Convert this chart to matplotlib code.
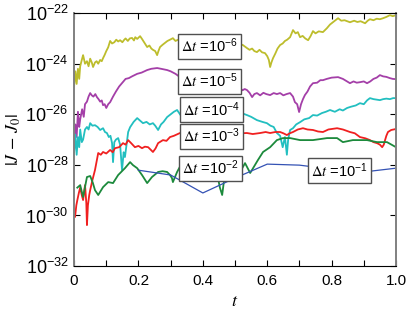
import matplotlib
matplotlib.use("Agg")
import matplotlib.pyplot as plt
import numpy as np

plt.rcParams['font.family'] = ['Liberation Sans', 'DejaVu Sans']
plt.rcParams['mathtext.fontset'] = 'stix'

# exponents log10|J - J0|
t_6 = [0.0, 0.004, 0.008, 0.012, 0.016, 0.019, 0.025, 0.028, 0.034, 0.04, 0.045, 0.05, 0.055, 0.059,
       0.065, 0.07, 0.075, 0.081, 0.086, 0.09, 0.095, 0.1, 0.106, 0.112, 0.118, 0.125, 0.131, 0.137,
       0.143, 0.15, 0.156, 0.16, 0.167, 0.173, 0.18, 0.186, 0.19, 0.196, 0.205, 0.21, 0.215, 0.22,
       0.227, 0.234, 0.24, 0.245, 0.252, 0.258, 0.262, 0.267, 0.275, 0.282, 0.29, 0.298, 0.307,
       0.315, 0.323, 0.33, 0.4, 0.506, 0.515, 0.523, 0.537, 0.545, 0.553, 0.56, 0.568, 0.576, 0.584,
       0.593, 0.6, 0.605, 0.609, 0.613, 0.618, 0.625, 0.632, 0.64, 0.648, 0.655, 0.662, 0.671, 0.68,
       0.688, 0.695, 0.702, 0.71, 0.718, 0.727, 0.735, 0.742, 0.75, 0.76, 0.773, 0.785, 0.795, 0.805,
       0.82, 0.83, 0.84, 0.857, 0.87, 0.88, 0.89, 0.904, 0.912, 0.919, 0.93, 0.94, 0.95, 0.96, 0.97,
       0.981, 0.99, 1.0]
y_6 = [-24.9, -24.3, -24.8, -24.2, -24.6, -24.1, -23.8, -23.66, -24.0, -23.9, -24.1, -23.8, -23.95, -24.13,
       -23.95, -23.9, -24.0, -23.85, -23.9, -23.78, -23.65, -23.5, -23.35, -23.1, -23.2, -23.15, -23.05, -23.12,
       -23.07, -23.15, -23.05, -23.0, -23.1, -23.0, -22.98, -23.08, -22.95, -23.02, -22.91, -23.0, -23.1, -23.2,
       -23.34, -23.28, -23.4, -23.45, -23.5, -23.66, -23.5, -23.34, -23.25, -23.18, -23.1, -23.05, -22.99,
       -23.1, -23.05, -23.15, -23.2, -23.19, -23.3, -23.25, -23.38, -23.45, -23.4, -23.5, -23.54, -23.45, -23.55,
       -23.58, -23.7, -23.85, -24.13, -23.95, -23.78, -23.6, -23.4, -23.26, -23.2, -23.1, -23.05, -22.95, -22.67,
       -22.8, -22.75, -22.95, -22.9, -23.0, -23.07, -22.9, -22.71, -22.8, -22.72, -22.75, -22.6, -22.45, -22.35,
       -22.2, -22.3, -22.28, -22.36, -22.3, -22.35, -22.32, -22.4, -22.3, -22.24, -22.28, -22.22, -22.24, -22.2, -22.15,
       -22.08, -22.12, -22.08]

t_5 = [0.0, 0.004, 0.008, 0.012, 0.016, 0.019, 0.025, 0.03, 0.034, 0.04, 0.045, 0.05, 0.055, 0.06,
       0.066, 0.071, 0.076, 0.081, 0.086, 0.09, 0.095, 0.1, 0.106, 0.112, 0.121, 0.13, 0.14, 0.15,
       0.16, 0.17, 0.18, 0.196, 0.21, 0.227, 0.24, 0.258, 0.27, 0.289, 0.3, 0.315, 0.329, 0.42, 0.506,
       0.515, 0.523, 0.53, 0.537, 0.545, 0.553, 0.56, 0.568, 0.578, 0.588, 0.597, 0.609, 0.62, 0.63,
       0.64, 0.65, 0.66, 0.671, 0.68, 0.686, 0.693, 0.699, 0.705, 0.711, 0.717, 0.725, 0.733, 0.742,
       0.755, 0.765, 0.773, 0.785, 0.8, 0.82, 0.835, 0.848, 0.857, 0.868, 0.878, 0.888, 0.9, 0.91,
       0.92, 0.93, 0.94, 0.95, 0.96, 0.97, 0.981, 0.99, 1.0]
y_5 = [-27.2, -26.4, -26.9, -25.9, -26.5, -26.2, -25.8, -26.1, -25.6, -25.5, -25.3, -25.16, -25.25, -25.3,
       -25.2, -25.32, -25.4, -25.5, -25.45, -25.64, -25.6, -25.75, -25.6, -25.52, -25.3, -25.1, -24.9, -24.75,
       -24.6, -24.57, -24.5, -24.4, -24.35, -24.25, -24.2, -24.17, -24.2, -24.25, -24.3, -24.4, -24.53, -24.8, -24.92,
       -24.95, -25.05, -25.0, -25.04, -25.15, -25.32, -25.2, -25.16, -25.25, -25.15, -25.2, -25.24, -25.16, -25.2,
       -25.16, -25.25, -25.2, -25.16, -25.3, -25.52, -25.6, -25.91, -25.6, -25.4, -25.24, -25.1, -24.9, -24.77,
       -24.75, -24.65, -24.65, -24.6, -24.55, -24.53, -24.6, -24.7, -24.77, -24.7, -24.75, -24.73, -24.7, -24.77,
       -24.7, -24.6, -24.55, -24.45, -24.5, -24.52, -24.57, -24.6, -24.61]

t_4 = [0.0, 0.004, 0.008, 0.012, 0.016, 0.019, 0.024, 0.028, 0.034, 0.04, 0.045, 0.05, 0.057, 0.065,
       0.073, 0.081, 0.09, 0.096, 0.102, 0.108, 0.113, 0.118, 0.121, 0.125, 0.13, 0.137, 0.143, 0.149,
       0.154, 0.158, 0.163, 0.168, 0.174, 0.185, 0.196, 0.205, 0.214, 0.225, 0.235, 0.245, 0.252, 0.261,
       0.27, 0.278, 0.289, 0.3, 0.31, 0.32, 0.335, 0.42, 0.506, 0.52, 0.537, 0.55, 0.568, 0.585, 0.599,
       0.61, 0.62, 0.63, 0.64, 0.648, 0.655, 0.661, 0.665, 0.671, 0.68, 0.69, 0.702, 0.715, 0.73, 0.742,
       0.755, 0.77, 0.782, 0.795, 0.81, 0.825, 0.835, 0.848, 0.86, 0.875, 0.888, 0.9, 0.91, 0.919, 0.93,
       0.94, 0.95, 0.96, 0.97, 0.981, 0.991, 1.0]
y_4 = [-27.5, -26.8, -27.6, -26.9, -27.3, -26.6, -27.1, -27.0, -26.6, -26.5, -26.6, -26.35, -26.45, -26.43,
       -26.5, -26.62, -26.55, -26.7, -26.74, -26.9, -26.85, -27.14, -27.89, -27.1, -27.0, -26.94, -27.2, -28.21,
       -27.5, -27.69, -27.2, -26.7, -26.51, -26.3, -26.15, -26.25, -26.35, -26.3, -26.4, -26.35, -26.45, -26.62,
       -26.4, -26.3, -26.11, -26.0, -25.9, -25.83, -26.11, -26.0, -25.83, -25.95, -26.03, -26.1, -26.23, -26.3, -26.35,
       -26.45, -26.5, -26.74, -26.85, -27.3, -26.9, -27.6, -27.0, -26.62, -26.55, -26.4, -26.31, -26.2, -26.15, -26.03,
       -26.05, -25.95, -25.9, -25.83, -25.9, -25.8, -25.85, -25.75, -25.7, -25.65, -25.56, -25.6, -25.45, -25.36, -25.4,
       -25.42, -25.44, -25.4, -25.38, -25.4, -25.36, -25.36]

t_3 = [0.0, 0.003, 0.007, 0.01, 0.015, 0.019, 0.024, 0.028, 0.034, 0.038, 0.04, 0.043, 0.047, 0.05,
       0.057, 0.065, 0.075, 0.083, 0.09, 0.1, 0.112, 0.12, 0.127, 0.14, 0.152, 0.16, 0.168, 0.178, 0.189,
       0.2, 0.211, 0.22, 0.23, 0.238, 0.245, 0.253, 0.261, 0.276, 0.287, 0.298, 0.31, 0.329, 0.42, 0.506,
       0.52, 0.537, 0.555, 0.578, 0.595, 0.609, 0.625, 0.64, 0.65, 0.661, 0.67, 0.68, 0.695, 0.711, 0.725,
       0.742, 0.758, 0.773, 0.79, 0.817, 0.835, 0.857, 0.872, 0.888, 0.905, 0.919, 0.93, 0.941, 0.95,
       0.957, 0.962, 0.966, 0.97, 0.975, 0.985, 1.0]
y_3 = [-30.0, -30.06, -29.6, -29.4, -29.1, -28.9, -29.2, -29.39, -28.8, -29.5, -30.38, -29.6, -29.2, -29.0,
       -28.6, -28.2, -27.53, -27.6, -27.49, -27.55, -27.41, -27.5, -27.34, -27.3, -27.14, -27.2, -27.02, -27.15, -27.30,
       -27.25, -27.34, -27.28, -27.30, -27.4, -27.49, -27.35, -27.14, -27.02, -27.05, -26.90, -26.85, -26.74, -26.7, -26.70,
       -26.75, -26.74, -26.78, -26.74, -26.7, -26.74, -26.7, -26.70, -26.75, -26.82, -26.75, -26.70, -26.6, -26.55, -26.6,
       -26.62, -26.68, -26.70, -26.6, -26.55, -26.6, -26.70, -26.75, -26.90, -26.95, -27.02, -27.1, -27.14, -27.2,
       -27.30, -27.2, -27.02, -26.85, -26.70, -26.62, -26.58]

t_2 = [0.01, 0.019, 0.028, 0.04, 0.05, 0.058, 0.065, 0.075, 0.09, 0.106, 0.121, 0.137, 0.158, 0.174,
       0.183, 0.196, 0.211, 0.227, 0.242, 0.261, 0.275, 0.289, 0.298, 0.304, 0.307, 0.32, 0.335, 0.4,
       0.447, 0.453, 0.46, 0.466, 0.475, 0.494, 0.516, 0.531, 0.547, 0.556, 0.571, 0.587, 0.609, 0.63,
       0.649, 0.671, 0.702, 0.742, 0.786, 0.817, 0.835, 0.866, 0.91, 0.941, 0.972, 1.0]
y_2 = [-28.9, -28.80, -29.27, -28.48, -28.44, -28.7, -29.0, -29.19, -28.88, -28.68, -28.72, -28.40, -28.13, -27.89,
       -28.01, -28.13, -28.40, -28.72, -28.48, -28.28, -28.25, -28.28, -28.4, -28.52, -28.68, -28.28, -27.93, -28.3,
       -28.52, -28.9, -29.19, -28.6, -28.40, -28.32, -28.28, -27.93, -28.32, -28.13, -27.81, -27.49, -27.30, -27.02,
       -26.94, -26.94, -27.02, -27.02, -26.94, -26.94, -27.10, -27.02, -27.02, -27.10, -27.10, -27.30]

t_1 = [0.2, 0.3, 0.4, 0.5, 0.6, 0.7, 0.8, 0.9, 1.0]
y_1 = [-28.21, -28.40, -29.11, -28.52, -27.97, -28.01, -28.17, -28.28, -28.13]

series = [
    (t_6, y_6, '#bdbd2c', 6, 0.332, -23.30),
    (t_5, y_5, '#a43fa8', 5, 0.332, -24.69),
    (t_4, y_4, '#22bfc0', 4, 0.338, -25.81),
    (t_3, y_3, '#f02020', 3, 0.338, -26.86),
    (t_2, y_2, '#1c8a3c', 2, 0.335, -28.13),
    (t_1, y_1, '#3452b4', 1, 0.737, -28.23),
]

fig = plt.figure(figsize=(4.07, 3.13), dpi=100)
ax = fig.add_axes([0.182, 0.150, 0.791, 0.808])

for t, y, col, k, lx, ly in series:
    ax.semilogy(t, 10.0 ** np.array(y), color=col, lw=0.9 if k == 1 else 1.3)
for t, y, col, k, lx, ly in series:
    ax.text(lx, 10.0 ** ly, r'$\Delta t$ =$\mathregular{10^{-%d}}$' % k, fontsize=10.5,
            ha='left', va='center', zorder=10,
            bbox=dict(boxstyle='square,pad=0.22', fc='white', ec='#505050', lw=1.0))

ax.set_xlim(0, 1)
ax.set_ylim(1e-32, 1e-22)
ax.set_xticks(np.arange(0, 1.01, 0.1), minor=False)
ax.set_xticklabels(['0', '', '0.2', '', '0.4', '', '0.6', '', '0.8', '', '1.0'], fontsize=11)
yt = [1e-32, 1e-30, 1e-28, 1e-26, 1e-24, 1e-22]
ax.set_yticks(yt)
ax.set_yticklabels([r'$\mathregular{10^{-%d}}$' % e for e in [32, 30, 28, 26, 24, 22]], fontsize=13)
ax.minorticks_off()
ax.tick_params(direction='in', top=True, right=True, length=4, width=0.8)
ax.tick_params(axis='x', pad=6)
ax.tick_params(axis='y', pad=4)
for s in ['left', 'right']:
    ax.spines[s].set_color('#808080')
    ax.spines[s].set_linewidth(1.4)
ax.set_xlabel(r'$t$', fontsize=13, labelpad=3)
ax.set_ylabel(r'$|J\,-\,J_0|$', fontsize=13, labelpad=2)

fig.savefig('out.png', dpi=100)
